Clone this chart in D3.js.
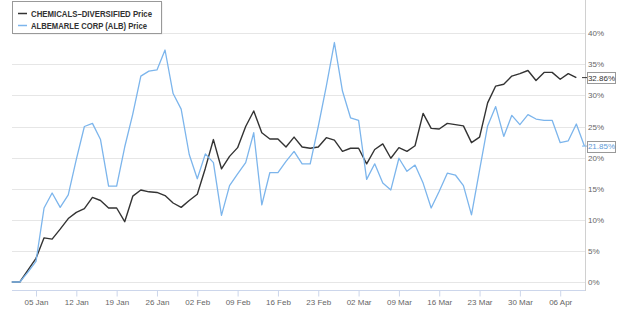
<!DOCTYPE html>
<html><head><meta charset="utf-8">
<script src="https://cdn.jsdelivr.net/npm/d3@7"></script>
<style>body{margin:0;background:#fff}svg{display:block}</style>
</head><body>
<svg id="c" width="620" height="310"></svg>
<script>
const seriesNames = ["CHEMICALS–DIVERSIFIED Price", "ALBEMARLE CORP (ALB) Price"];
const seriesColors = ["#333333", "#7cb5ec"];
// % change, one value per trading day (index 0 = 31 Dec)
const chemValues = [0, 0, 1.9, 3.8, 7.1, 6.9, 8.5, 10.2, 11.2, 11.8,
  13.6, 13.1, 11.9, 11.9, 9.7, 13.8, 14.8, 14.5, 14.4, 13.9,
  12.7, 12.0, 13.1, 14.1, 18.3, 22.9, 18.2, 20.2, 21.6, 25.0,
  27.5, 24.0, 23.0, 23.0, 21.7, 23.3, 21.7, 21.5, 21.7, 23.2,
  22.8, 21.0, 21.5, 21.5, 19.0, 21.3, 22.2, 19.9, 21.6, 21.0,
  21.9, 27.1, 24.7, 24.6, 25.5, 25.3, 25.1, 22.4, 23.3, 28.8,
  31.5, 31.8, 33.1, 33.5, 34.0, 32.4, 33.7, 33.7, 32.6, 33.5,
  32.86];
const albValues = [0, 0, 1.6, 3.3, 11.9, 14.3, 12.0, 14.0, 19.7, 25.0,
  25.5, 22.9, 15.4, 15.4, 21.7, 27.0, 33.1, 33.9, 34.1, 37.3,
  30.3, 27.8, 20.5, 16.6, 20.6, 19.2, 10.7, 15.5, 17.4, 19.2,
  24.0, 12.4, 17.6, 17.6, 19.4, 21.0, 19.0, 19.0, 25.0, 31.5,
  38.5, 30.7, 26.4, 26.0, 16.5, 19.0, 15.9, 14.8, 19.9, 17.8,
  18.8, 15.9, 11.9, 14.6, 17.5, 17.2, 15.5, 10.8, 18.0, 25.1,
  28.2, 23.4, 26.8, 25.3, 26.9, 26.2, 26.0, 26.0, 22.4, 22.7,
  25.4, 21.85];
const tickIndex = [3, 8, 13, 18, 23, 28, 33, 38, 43, 48, 53, 58, 63, 68];
const tickLabels = ["05 Jan", "12 Jan", "19 Jan", "26 Jan", "02 Feb", "09 Feb", "16 Feb",
  "23 Feb", "02 Mar", "09 Mar", "16 Mar", "23 Mar", "30 Mar", "06 Apr"];
const yTicks = [0, 5, 10, 15, 20, 25, 30, 35, 40];

const svg = d3.select("#c");
const font = "'Liberation Sans', Arial, sans-serif";
const x = d3.scaleLinear().domain([0, 71]).range([11.8, 584.4]);
const y = d3.scaleLinear().domain([0, 40]).range([282, 33.2]);
const left = 12, right = 585;

// gridlines
svg.append("g").selectAll("line").data(yTicks).join("line")
  .attr("x1", left).attr("x2", right)
  .attr("y1", d => Math.round(y(d)) + 0.5).attr("y2", d => Math.round(y(d)) + 0.5)
  .attr("stroke", "#e6e6e6").attr("stroke-width", 1);

// right axis line
svg.append("line").attr("x1", right + 0.5).attr("x2", right + 0.5)
  .attr("y1", 0).attr("y2", 291).attr("stroke", "#d0d0d0");

// y axis labels
const yAxis = d3.axisRight(y).tickValues(yTicks).tickSize(0).tickPadding(3)
  .tickFormat(d => d + "%");
const gy = svg.append("g").attr("transform", `translate(${right},0)`).call(yAxis);
gy.select(".domain").remove();
gy.selectAll("text").attr("font-family", font).attr("font-size", 8).attr("fill", "#666");

// x axis
const xAxis = d3.axisBottom(x).tickValues(tickIndex).tickSize(6).tickPadding(3)
  .tickFormat((d, i) => tickLabels[i]);
const gx = svg.append("g").attr("transform", "translate(0,290.5)").call(xAxis);
gx.select(".domain").attr("d", `M${left},0H${right}`).attr("stroke", "#ccd6eb");
gx.selectAll(".tick line").attr("stroke", "#ccd6eb");
gx.selectAll("text").attr("font-family", font).attr("font-size", 8).attr("fill", "#666");

// lines
const line = d3.line().x((d, i) => x(i)).y(d => y(d));
[chemValues, albValues].forEach((vals, k) => {
  svg.append("path").datum(vals)
    .attr("fill", "none").attr("stroke", seriesColors[k])
    .attr("stroke-width", k === 0 ? 1.4 : 1.3)
    .attr("stroke-linejoin", "round")
    .attr("d", line);
});

// last value labels
[chemValues, albValues].forEach((vals, k) => {
  const v = vals[vals.length - 1];
  const yy = y(v);
  svg.append("line").attr("x1", right - 3).attr("x2", right + 3)
    .attr("y1", yy).attr("y2", yy).attr("stroke", seriesColors[k]).attr("stroke-width", 1);
  svg.append("rect").attr("x", 587.5).attr("y", Math.round(yy - 5.5) + 0.5)
    .attr("width", 28).attr("height", 11)
    .attr("fill", "#fff").attr("stroke", "#999").attr("stroke-width", 1);
  svg.append("text").attr("x", 601.5).attr("y", yy + 3)
    .attr("text-anchor", "middle")
    .attr("font-family", font).attr("font-size", 8)
    .attr("fill", k === 0 ? "#333" : "#5b9bd8")
    .text(d3.format(".2f")(v) + "%");
});

// legend
const lg = svg.append("g");
lg.append("rect").attr("x", 13.5).attr("y", 2.5).attr("width", 149).attr("height", 32)
  .attr("fill", "#e8e8e8");
lg.append("rect").attr("x", 12.5).attr("y", 1.5).attr("width", 149).attr("height", 32)
  .attr("fill", "#fff").attr("stroke", "#999");
const legW = [121, 116];
seriesNames.forEach((n, k) => {
  const ly = 13.5 + k * 12;
  lg.append("line").attr("x1", 18).attr("x2", 27).attr("y1", ly).attr("y2", ly)
    .attr("stroke", seriesColors[k]).attr("stroke-width", 1.5);
  lg.append("text").attr("x", 31).attr("y", ly + 3)
    .attr("font-family", font).attr("font-size", 8.5).attr("font-weight", "bold")
    .attr("fill", "#333")
    .attr("textLength", legW[k]).attr("lengthAdjust", "spacingAndGlyphs")
    .text(n);
});
</script>
</body></html>
